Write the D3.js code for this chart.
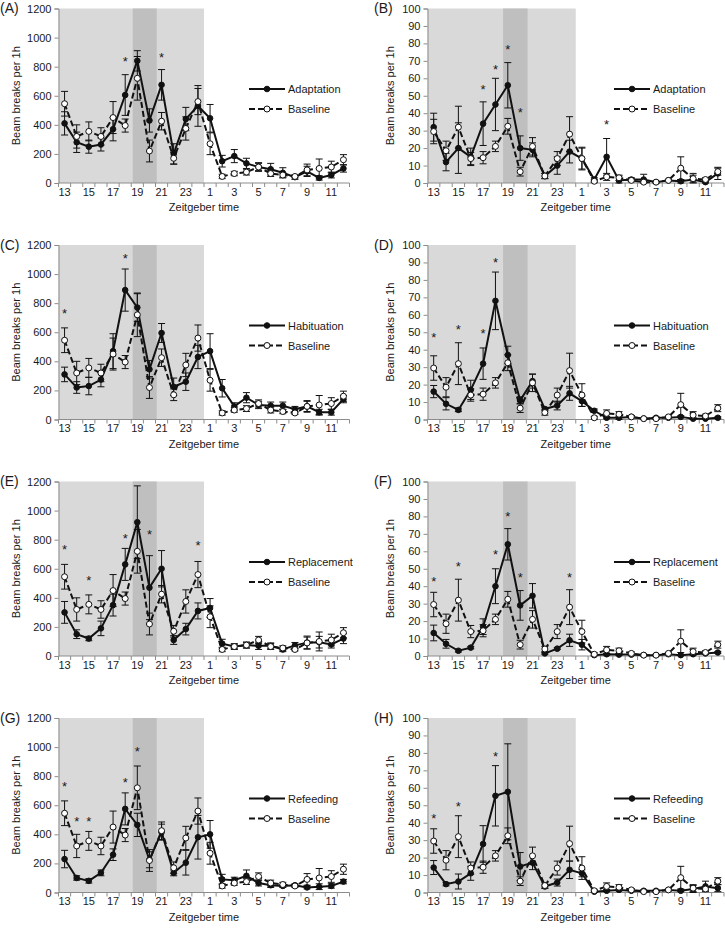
<!DOCTYPE html>
<html><head><meta charset="utf-8">
<script src="https://cdn.jsdelivr.net/npm/d3@7"></script>
<style>
body{margin:0;background:#fff}
svg{display:block}
text{font-family:"Liberation Sans",Arial,sans-serif;fill:#1a1a1a}
</style>
</head><body>
<svg id="c" width="725" height="931"></svg>
<script>
// ---------- DATA ----------
const hours = [13,14,15,16,17,18,19,20,21,22,23,24,1,2,3,4,5,6,7,8,9,10,11,12];
const xTickLabels = [13,15,17,19,21,23,1,3,5,7,9,11];
const yTicksLeft = [0,200,400,600,800,1000,1200];
const yTicksRight = [0,10,20,30,40,50,60,70,80,90,100];

const baselineL    = [545,320,355,320,450,395,720,220,425,170,375,560,270,45,65,75,110,65,55,45,90,100,110,160];
const baselineLErr = [85,80,65,60,110,45,150,75,60,40,80,90,75,15,15,20,25,20,15,10,40,65,40,35];
const baselineR    = [29.5,18.5,32,14,14.5,21,32.5,6.5,21,4,14,28,14,1,3.5,3,1.5,0.5,0.5,1.5,8.5,2.5,2,6.5];
const baselineRErr = [7,5.5,12,3.5,3.5,3,4.5,2.5,5,1.5,4,10,6.5,0.8,2,1.5,0.8,0.5,0.5,0.5,6.5,2,1,2];

const adaptationL    = [410,280,250,265,370,605,840,430,675,200,440,530,445,150,185,135,110,95,70,40,80,35,55,100];
const adaptationLErr = [80,70,45,45,80,140,70,80,105,70,80,140,95,40,45,35,30,40,35,15,35,15,20,25];
const adaptationR    = [32,12,20,15,34,45,56,20,19,4,10,18,14,2,15,1.5,2,2,0.5,1.5,1,2,0.5,5.5];
const adaptationRErr = [8,5,14.5,5,12.5,15,13,7,4,1.5,5,6.5,6,1,10.5,2.5,1,3,0.5,0.5,1,3.5,1,3.5];

const habituationL    = [310,220,230,275,470,890,770,345,595,225,260,430,470,215,90,150,100,95,95,70,90,50,50,140];
const habituationLErr = [50,40,60,50,120,145,95,60,65,60,60,80,120,60,25,35,25,25,25,20,35,20,20,25];
const habituationR    = [16,9,5.5,17,32,68,37,11,22,6,8,15,10.5,5,1,1,1.5,0.5,1,1,1.5,0.5,0.5,1];
const habituationRErr = [3.5,3.5,1,5.5,9,16.5,5,2,4,1,2.5,4,3,1,0.5,1,0.5,0.3,0.5,0.5,0.5,0.5,0.5,0.5];

const replacementL    = [300,150,120,190,350,630,920,470,600,110,185,310,330,85,65,75,70,70,45,73,92,95,80,120];
const replacementLErr = [75,30,15,50,75,110,250,220,125,30,40,55,65,30,20,20,25,20,15,20,45,40,25,35];
const replacementR    = [13.2,7,3,4.8,16.8,40,64,29,34.5,1.5,4.2,9,6.5,0.5,1,0.8,0.8,0.5,0.5,1,0.5,1,1.5,2];
const replacementRErr = [4.5,2.5,0.7,0.7,4.5,10,9,8.5,7,0.5,0.5,3.5,3,0.3,0.5,0.5,0.3,0.3,0.3,0.3,0.3,0.3,0.5,0.5];

const refeedingL    = [230,100,80,135,260,575,465,225,415,135,205,380,400,90,85,115,65,50,45,50,35,40,45,75];
const refeedingLErr = [60,15,15,20,40,110,80,55,55,20,85,150,95,35,20,40,20,15,10,10,10,20,15,15];
const refeedingR    = [14.3,4.8,6.3,11,27.8,55.4,57.7,14.9,17.1,3.4,5.7,13,11,0.5,1,1.5,1,1,1,1.5,1,2,3.5,2.5];
const refeedingRErr = [4,1,4.3,4,10.5,17.3,27.5,8,4,1,2,5,2,0.5,0.5,0.5,0.5,0.5,0.5,0.5,0.5,2,3,2];

// significance stars: [hour, y value]
const starsA = [[18,850],[21,880]];
const starsB = [[17,55],[18,66.5],[19,78],[20,42],[3,35]];
const starsC = [[13,747],[18,1125]];
const starsD = [[13,48.6],[15,53],[17,51],[18,91.4]];
const starsE = [[13,748],[15,535],[18,826],[20,856],[24,776]];
const starsF = [[13,44],[15,53],[18,59.5],[19,81.5],[20,46.5],[24,46.5]];
const starsG = [[13,745],[14,504],[15,504],[18,772],[19,985]];
const starsH = [[13,43.8],[15,50.5],[18,79.2]];

const panels = [
  {letter:"(A)", name:"Adaptation",  mean:adaptationL,  err:adaptationLErr,  base:baselineL, baseErr:baselineLErr, stars:starsA, col:0, row:0, yTicks:yTicksLeft},
  {letter:"(B)", name:"Adaptation",  mean:adaptationR,  err:adaptationRErr,  base:baselineR, baseErr:baselineRErr, stars:starsB, col:1, row:0, yTicks:yTicksRight},
  {letter:"(C)", name:"Habituation", mean:habituationL, err:habituationLErr, base:baselineL, baseErr:baselineLErr, stars:starsC, col:0, row:1, yTicks:yTicksLeft},
  {letter:"(D)", name:"Habituation", mean:habituationR, err:habituationRErr, base:baselineR, baseErr:baselineRErr, stars:starsD, col:1, row:1, yTicks:yTicksRight},
  {letter:"(E)", name:"Replacement", mean:replacementL, err:replacementLErr, base:baselineL, baseErr:baselineLErr, stars:starsE, col:0, row:2, yTicks:yTicksLeft},
  {letter:"(F)", name:"Replacement", mean:replacementR, err:replacementRErr, base:baselineR, baseErr:baselineRErr, stars:starsF, col:1, row:2, yTicks:yTicksRight},
  {letter:"(G)", name:"Refeeding",   mean:refeedingL,   err:refeedingLErr,   base:baselineL, baseErr:baselineLErr, stars:starsG, col:0, row:3, yTicks:yTicksLeft},
  {letter:"(H)", name:"Refeeding",   mean:refeedingR,   err:refeedingRErr,   base:baselineR, baseErr:baselineRErr, stars:starsH, col:1, row:3, yTicks:yTicksRight},
];

// ---------- LAYOUT ----------
const colX = [[58.5, 349.5],[427.5, 724]];
const rowTop0 = 8.5, rowBot0 = 183, rowStep = 236.5;
const legendX = [249, 614];
const svg = d3.select("#c");
const fs = 11;
const FONT = "Liberation Sans, Arial, sans-serif";

panels.forEach(p => {
  const [x0, x1] = colX[p.col];
  const top = rowTop0 + rowStep*p.row, bot = rowBot0 + rowStep*p.row;
  const x = d3.scaleBand().domain(hours).range([x0, x1]).padding(0);
  const bw = x.bandwidth();
  const cx = h => x(h) + bw/2;
  const y = d3.scaleLinear().domain([0, d3.max(p.yTicks)]).range([bot, top]);
  const g = svg.append("g");

  // shading
  g.append("rect").attr("x", x(13)).attr("y", top).attr("width", x(24) + bw - x(13)).attr("height", bot - top).attr("fill", "#d9d9d9");
  g.append("rect").attr("x", x0 + 6.12*bw).attr("y", top).attr("width", 1.98*bw).attr("height", bot - top).attr("fill", "#bfbfbf");

  // y axis
  const ya = g.append("g").attr("transform", `translate(${x0},0)`)
    .call(d3.axisLeft(y).tickValues(p.yTicks).tickFormat(d3.format("d")).tickSize(4).tickPadding(3));
  ya.select(".domain").attr("stroke", "#8c8c8c");
  ya.selectAll(".tick line").attr("stroke", "#8c8c8c");
  ya.selectAll("text").style("font-size", fs + "px").style("font-family", FONT).attr("fill", "#1a1a1a");

  // x axis
  const xa = g.append("g").attr("transform", `translate(0,${bot})`)
    .call(d3.axisBottom(x).tickValues(xTickLabels).tickSize(0).tickPadding(5));
  xa.select(".domain").remove();
  xa.selectAll("text").style("font-size", fs + "px").style("font-family", FONT).attr("fill", "#1a1a1a");
  g.append("line").attr("x1", x0).attr("x2", x1).attr("y1", bot).attr("y2", bot).attr("stroke", "#8c8c8c");
  const bounds = hours.map(h => x(h)).concat([x1]);
  g.selectAll(".xt").data(bounds).join("line")
    .attr("x1", d => d).attr("x2", d => d).attr("y1", bot).attr("y2", bot + 4).attr("stroke", "#8c8c8c");

  // series drawing
  const drawSeries = (vals, errs, dashed) => {
    const data = hours.map((h, i) => ({h, v: vals[i], e: errs[i]}));
    const line = d3.line().x(d => cx(d.h)).y(d => y(d.v));
    g.append("path").datum(data).attr("d", line).attr("fill", "none")
      .attr("stroke", "#111").attr("stroke-width", 2)
      .attr("stroke-dasharray", dashed ? "6,3" : null);
    const eb = g.append("g").attr("stroke", "#111").attr("stroke-width", 1);
    data.forEach(d => {
      const yt = y(d.v + d.e), yb = y(Math.max(0, d.v - d.e)), xc = cx(d.h);
      eb.append("line").attr("x1", xc).attr("x2", xc).attr("y1", yt).attr("y2", yb);
      eb.append("line").attr("x1", xc - 3.5).attr("x2", xc + 3.5).attr("y1", yt).attr("y2", yt);
      eb.append("line").attr("x1", xc - 3.5).attr("x2", xc + 3.5).attr("y1", yb).attr("y2", yb);
    });
    g.selectAll(null).data(data).join("circle")
      .attr("cx", d => cx(d.h)).attr("cy", d => y(d.v))
      .attr("r", dashed ? 3 : 2.8)
      .attr("fill", dashed ? "#fff" : "#111")
      .attr("stroke", "#111").attr("stroke-width", 1);
  };
  drawSeries(p.mean, p.err, false);
  drawSeries(p.base, p.baseErr, true);

  // stars
  g.selectAll(null).data(p.stars).join("text")
    .attr("x", d => cx(d[0])).attr("y", d => y(d[1]) + 7)
    .attr("text-anchor", "middle").style("font-size", "13px").attr("fill", "#222").text("*");

  // legend
  const lx = legendX[p.col];
  [[p.name, false, top + 80.5], ["Baseline", true, top + 100.5]].forEach(([lab, dashed, ly]) => {
    g.append("line").attr("x1", lx).attr("x2", lx + 36).attr("y1", ly).attr("y2", ly)
      .attr("stroke", "#111").attr("stroke-width", 2).attr("stroke-dasharray", dashed ? "6,3" : null);
    g.append("circle").attr("cx", lx + 18).attr("cy", ly).attr("r", dashed ? 3 : 2.8)
      .attr("fill", dashed ? "#fff" : "#111").attr("stroke", "#111");
    g.append("text").attr("x", lx + 39).attr("y", ly + 4).style("font-size", fs + "px").text(lab);
  });

  // titles
  g.append("text").attr("transform", `translate(${p.col ? 390 : 16},${(top + bot)/2}) rotate(-90)`)
    .attr("text-anchor", "middle").attr("dy", "0.35em").style("font-size", fs + "px").text("Beam breaks per 1h");
  g.append("text").attr("x", (x0 + x1)/2).attr("y", bot + 28).attr("text-anchor", "middle")
    .style("font-size", fs + "px").text("Zeitgeber time");
  g.append("text").attr("x", p.col ? 374 : 0).attr("y", top + 4.5).style("font-size", "14px").text(p.letter);
});
</script>
</body></html>
